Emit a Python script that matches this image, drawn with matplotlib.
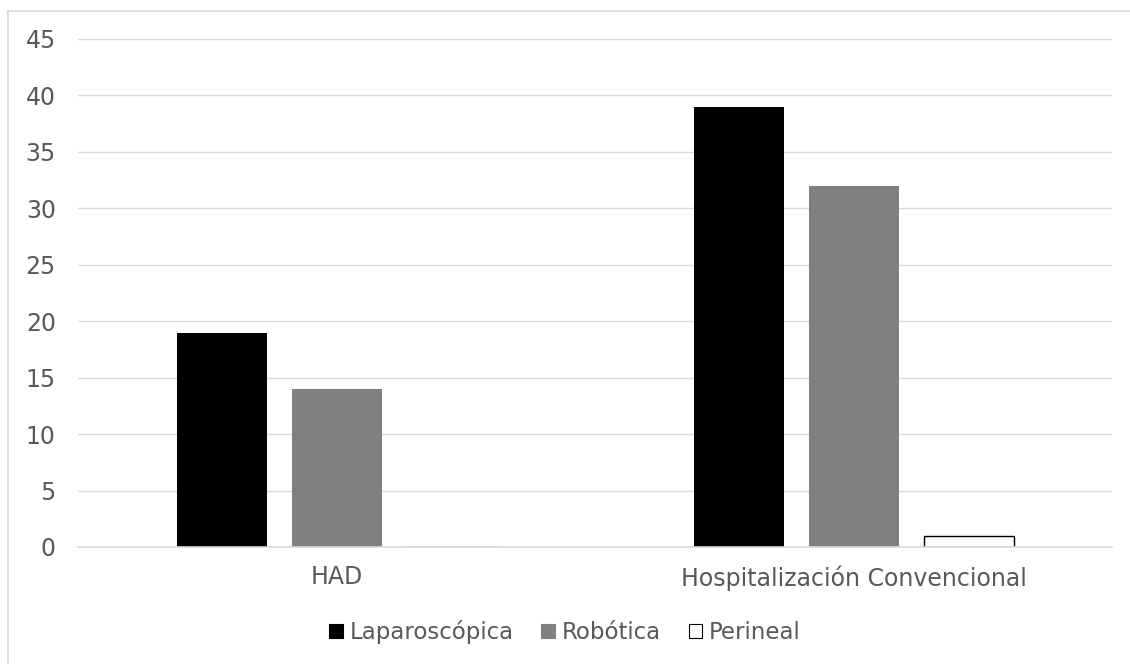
import matplotlib
matplotlib.use("Agg")
import matplotlib.pyplot as plt
import matplotlib.patches as mpatches
from matplotlib.lines import Line2D
import numpy as np

categories = ["HAD", "Hospitalización Convencional"]
series_names = ["Laparoscópica", "Robótica", "Perineal"]
laparoscopica = [19, 39]
robotica = [14, 32]
perineal = [0, 1]
y_ticks = [0, 5, 10, 15, 20, 25, 30, 35, 40, 45]

W, H = 1130, 664
fig = plt.figure(figsize=(W / 100, H / 100), dpi=100)
ax = fig.add_axes([78 / W, 117 / H, (1112 - 78) / W, (547 - 39) / H])

text_color = "#595959"
grid_color = "#d9d9d9"

x = np.arange(len(categories))
bar_w = 90 / 517
step = 115 / 517

styles = [
    dict(color="#000000", edgecolor="#000000", linewidth=0),
    dict(color="#808080", edgecolor="#808080", linewidth=0),
    dict(facecolor="#ffffff", edgecolor="#000000", linewidth=1.0),
]
for i, (vals, st) in enumerate(zip([laparoscopica, robotica, perineal], styles)):
    ax.bar(x + (i - 1) * step, vals, width=bar_w, label=series_names[i], zorder=3, **st)

ax.set_xlim(-0.5, 1.5)
ax.set_ylim(0, 45)
ax.set_yticks(y_ticks)
ax.set_xticks(x)
ax.set_xticklabels(categories)
ax.yaxis.grid(True, color=grid_color, linewidth=1.0, zorder=0)
ax.set_axisbelow(True)
for side in ["top", "right", "left"]:
    ax.spines[side].set_visible(False)
ax.spines["bottom"].set_color(grid_color)
ax.spines["bottom"].set_linewidth(1.2)
ax.spines["bottom"].set_zorder(4)
ax.tick_params(axis="both", length=0, labelsize=17, labelcolor=text_color)
ax.tick_params(axis="y", pad=16)
ax.tick_params(axis="x", pad=13)

# chart-area frame: only the top and left edges fall inside the image
fx, fy = 7.5 / W, 1 - 10.5 / H
fig.add_artist(Line2D([fx, 1.0], [fy, fy], transform=fig.transFigure,
                      color=grid_color, linewidth=1.2))
fig.add_artist(Line2D([fx, fx], [0.0, fy], transform=fig.transFigure,
                      color=grid_color, linewidth=1.2))

handles = [
    mpatches.Patch(facecolor="#000000", edgecolor="#000000", linewidth=0.8),
    mpatches.Patch(facecolor="#808080", edgecolor="#808080", linewidth=0.8),
    mpatches.Patch(facecolor="#ffffff", edgecolor="#000000", linewidth=0.8),
]
fig.legend(handles, series_names, loc="center", bbox_to_anchor=(565 / W, 1 - 632 / H),
           ncol=3, frameon=False, fontsize=16.5, handlelength=0.6, handleheight=0.6,
           handletextpad=0.3, columnspacing=1.2, labelcolor=text_color)

fig.savefig("out.png", dpi=100, facecolor="white")
